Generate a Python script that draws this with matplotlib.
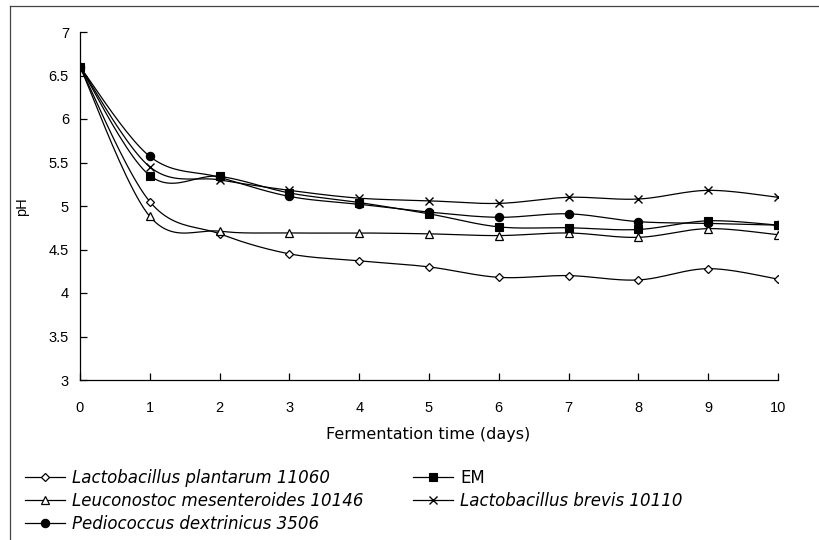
import numpy as np
import matplotlib
matplotlib.use("Agg")
import matplotlib.pyplot as plt
from matplotlib.lines import Line2D

plt.rcParams['font.family'] = ['Liberation Sans', 'DejaVu Sans']

days = [0, 1, 2, 3, 4, 5, 6, 7, 8, 9, 10]
ph_plantarum = [6.60, 5.05, 4.68, 4.45, 4.37, 4.30, 4.18, 4.20, 4.15, 4.28, 4.16]
ph_leuconostoc = [6.60, 4.88, 4.71, 4.69, 4.69, 4.68, 4.66, 4.69, 4.64, 4.74, 4.67]
ph_pediococcus = [6.60, 5.57, 5.33, 5.11, 5.02, 4.93, 4.87, 4.91, 4.82, 4.80, 4.78]
ph_em = [6.60, 5.35, 5.34, 5.15, 5.04, 4.91, 4.76, 4.75, 4.73, 4.83, 4.78]
ph_brevis = [6.60, 5.45, 5.30, 5.18, 5.09, 5.06, 5.03, 5.10, 5.08, 5.18, 5.10]

y_ticks = [3, 3.5, 4, 4.5, 5, 5.5, 6, 6.5, 7]
y_tick_labels = ['3', '3.5', '4', '4.5', '5', '5.5', '6', '6.5', '7']
x_ticks = days
x_tick_labels = [str(d) for d in days]


def smooth(x, y, n=24):
    """Bezier smoothing through every point (cardinal spline, tension 1/6)."""
    x = np.asarray(x, float)
    y = np.asarray(y, float)
    pts = np.column_stack([x, y])
    out = [pts[0]]
    t = np.linspace(0, 1, n)[1:]
    for i in range(len(pts) - 1):
        p0 = pts[i - 1] if i > 0 else pts[i]
        p1 = pts[i]
        p2 = pts[i + 1]
        p3 = pts[i + 2] if i + 2 < len(pts) else pts[i + 1]
        c1 = p1 + (p2 - p0) / 6.0
        c2 = p2 - (p3 - p1) / 6.0
        seg = ((1 - t) ** 3)[:, None] * p1 + (3 * (1 - t) ** 2 * t)[:, None] * c1 \
            + (3 * (1 - t) * t ** 2)[:, None] * c2 + (t ** 3)[:, None] * p2
        out.extend(seg)
    out = np.array(out)
    return out[:, 0], out[:, 1]


fig = plt.figure(figsize=(8.19, 5.40), dpi=100)
ax = fig.add_axes([80 / 819, 1 - 380 / 540, 698 / 819, 348 / 540])

series = [
    ("Lactobacillus plantarum 11060", ph_plantarum, dict(marker='D', mfc='white', ms=4.5, mew=0.9), True),
    ("Leuconostoc mesenteroides 10146", ph_leuconostoc, dict(marker='^', mfc='white', ms=6, mew=0.9), True),
    ("Pediococcus dextrinicus 3506", ph_pediococcus, dict(marker='o', mfc='black', ms=6, mew=0.8), True),
    ("EM", ph_em, dict(marker='s', mfc='black', ms=6, mew=0.8), False),
    ("Lactobacillus brevis 10110", ph_brevis, dict(marker='x', mfc='black', ms=6, mew=1.0), True),
]

handles = []
for label, vals, mk, italic in series:
    sx, sy = smooth(days, vals)
    ax.plot(sx, sy, color='black', lw=0.9, zorder=2)
    ax.plot(days, vals, ls='none', color='black', mec='black', zorder=3, **mk)
    handles.append(Line2D([], [], color='black', lw=0.9, mec='black', **mk))

ax.set_xlim(0, 10)
ax.set_ylim(3, 7)
ax.set_xticks(x_ticks)
ax.set_xticklabels(x_tick_labels)
ax.set_yticks(y_ticks)
ax.set_yticklabels(y_tick_labels)
for s in ('top', 'right'):
    ax.spines[s].set_visible(False)
for s in ('left', 'bottom'):
    ax.spines[s].set_linewidth(0.9)
ax.tick_params(axis='both', direction='in', length=5, width=0.9, labelsize=10.5)
ax.tick_params(axis='x', pad=15)
ax.tick_params(axis='y', pad=8)

label_font = ['DejaVu Sans']
fig.text(22 / 819, 1 - 207 / 540, 'pH', rotation=90, ha='center', va='center', fontsize=10.5)
fig.text(428 / 819, 1 - 435 / 540, 'Fermentation time (days)', ha='center', va='center',
         fontsize=11.5, family=label_font)

# legend laid out as two columns
legend_kw = dict(loc='upper left', frameon=False, handlelength=2.4, handletextpad=0.42,
                 labelspacing=0.3, borderpad=0, borderaxespad=0,
                 prop=dict(family=label_font, size=12))
columns = [([0, 1, 2], 25), ([3, 4], 413)]
for idx, x0 in columns:
    leg = fig.legend([handles[i] for i in idx], [series[i][0] for i in idx],
                     bbox_to_anchor=(x0 / 819, 1 - 469 / 540), **legend_kw)
    for txt, i in zip(leg.get_texts(), idx):
        if series[i][3]:
            txt.set_style('italic')

# thin frame around the figure
fig.add_artist(Line2D([10 / 819, 10 / 819], [0, 1 - 6 / 540], color='#444444', lw=0.9))
fig.add_artist(Line2D([10 / 819, 1], [1 - 6 / 540, 1 - 6 / 540], color='#444444', lw=0.9))

fig.savefig('out.png', dpi=100)
